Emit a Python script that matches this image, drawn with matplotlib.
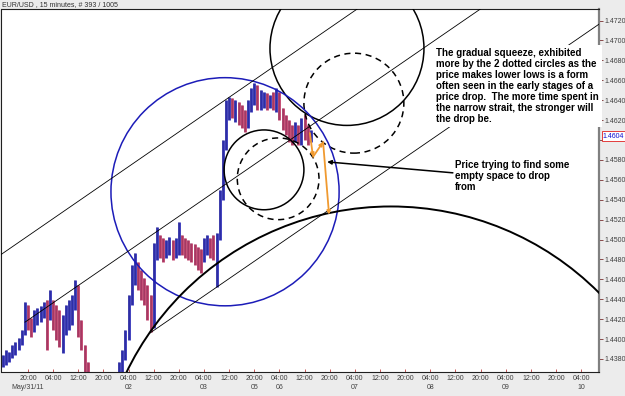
import matplotlib
matplotlib.use("Agg")
import matplotlib.pyplot as plt
import matplotlib.transforms as mtransforms
from matplotlib.patches import Ellipse

# hourly bars, x = trading hours counted from May/31 20:00
hours = list(range(-8, 91))
highs = [1.4384, 1.4389, 1.4387, 1.4394, 1.4397, 1.4401, 1.4409, 1.4437,
         1.4434, 1.4421, 1.4429, 1.4431, 1.4433, 1.4437, 1.4439, 1.4449, 1.4439, 1.4434,
         1.4429, 1.4424, 1.4434, 1.4439, 1.4444, 1.4459, 1.4454, 1.4419, 1.4394, 1.4377,
         1.4364, 1.4359, 1.4357, 1.4359, 1.4363, 1.4359, 1.4354, 1.4359, 1.4367, 1.4377,
         1.4389, 1.4409, 1.4444, 1.4474, 1.4486, 1.4477, 1.4469, 1.4461, 1.4454, 1.4444,
         1.4497, 1.4513, 1.4505, 1.4502, 1.4500, 1.4503, 1.4500, 1.4502, 1.4518, 1.4505,
         1.4502, 1.4500, 1.4497, 1.4495, 1.4492, 1.4490, 1.4502, 1.4505, 1.4502, 1.4505,
         1.4507, 1.4550, 1.4600, 1.4640, 1.4643, 1.4642, 1.4640, 1.4638, 1.4635, 1.4630,
         1.4640, 1.4652, 1.4657, 1.4655, 1.4650, 1.4648, 1.4647, 1.4645, 1.4648, 1.4652,
         1.4648, 1.4632, 1.4625, 1.4620, 1.4615, 1.4618, 1.4615, 1.4622, 1.4625, 1.4615, 1.4610]
lows = [1.4372, 1.4374, 1.4377, 1.4381, 1.4384, 1.4389, 1.4394, 1.4404,
        1.4409, 1.4402, 1.4407, 1.4414, 1.4417, 1.4421, 1.4389, 1.4419, 1.4409, 1.4399,
        1.4392, 1.4386, 1.4404, 1.4409, 1.4414, 1.4429, 1.4402, 1.4389, 1.4367, 1.4354,
        1.4344, 1.4341, 1.4339, 1.4341, 1.4343, 1.4339, 1.4334, 1.4339, 1.4347, 1.4354,
        1.4364, 1.4379, 1.4399, 1.4434, 1.4454, 1.4449, 1.4439, 1.4434, 1.4419, 1.4407,
        1.4411, 1.4479, 1.4481, 1.4477, 1.4481, 1.4484, 1.4479, 1.4481, 1.4484, 1.4484,
        1.4481, 1.4479, 1.4477, 1.4474, 1.4469, 1.4466, 1.4477, 1.4484, 1.4481, 1.4479,
        1.4452, 1.4500, 1.4540, 1.4590, 1.4620, 1.4622, 1.4618, 1.4615, 1.4612, 1.4608,
        1.4612, 1.4628, 1.4635, 1.4630, 1.4630, 1.4632, 1.4630, 1.4632, 1.4630, 1.4628,
        1.4620, 1.4610, 1.4605, 1.4598, 1.4595, 1.4598, 1.4595, 1.4595, 1.4600, 1.4595, 1.4598]
closes = [1.4379, 1.4384, 1.4386, 1.4391, 1.4394, 1.4396, 1.4404, 1.4429,
          1.4414, 1.4409, 1.4419, 1.4424, 1.4427, 1.4431, 1.4429, 1.4434, 1.4421, 1.4409,
          1.4404, 1.4409, 1.4421, 1.4429, 1.4434, 1.4444, 1.4419, 1.4394, 1.4374, 1.4361,
          1.4351, 1.4349, 1.4347, 1.4354, 1.4351, 1.4344, 1.4341, 1.4349, 1.4361, 1.4371,
          1.4384, 1.4404, 1.4439, 1.4464, 1.4469, 1.4459, 1.4449, 1.4439, 1.4429, 1.4419,
          1.4490, 1.4500, 1.4495, 1.4490, 1.4492, 1.4495, 1.4490, 1.4492, 1.4500, 1.4495,
          1.4490, 1.4488, 1.4484, 1.4481, 1.4477, 1.4474, 1.4495, 1.4500, 1.4495, 1.4490,
          1.4495, 1.4540, 1.4590, 1.4630, 1.4635, 1.4630, 1.4632, 1.4625, 1.4622, 1.4615,
          1.4630, 1.4645, 1.4650, 1.4640, 1.4640, 1.4640, 1.4638, 1.4640, 1.4635, 1.4640,
          1.4628, 1.4618, 1.4612, 1.4605, 1.4602, 1.4610, 1.4602, 1.4615, 1.4610, 1.4600, 1.4604]
last_price = 1.4604

# axis ticks
price_ticks = [1.438, 1.440, 1.442, 1.444, 1.446, 1.448, 1.450, 1.452, 1.454,
               1.456, 1.458, 1.460, 1.462, 1.464, 1.466, 1.468, 1.470, 1.472]
time_ticks = [0, 8, 16, 24, 32, 40, 48, 56, 64, 72, 80, 88,
              96, 104, 112, 120, 128, 136, 144, 152, 160, 168, 176]
time_labels = ['20:00', '04:00', '12:00', '20:00', '04:00', '12:00', '20:00', '04:00',
               '12:00', '20:00', '04:00', '12:00', '20:00', '04:00', '12:00', '20:00',
               '04:00', '12:00', '20:00', '04:00', '12:00', '20:00', '04:00']
date_labels = ['May/31/11', '', '', '', '02', '', '', '03', '', '05', '06', '',
               '', '07', '', '', '08', '', '', '09', '', '', '10']

# drawn objects: circles (center hour, center price, radius in hours)
circle_solid = [(101.5, 1.4692, 24.5), (75.1, 1.4570, 12.7)]
circle_dashed = [(103.7, 1.4637, 15.9), (79.6, 1.4561, 13.0)]
circle_blue = (62.7, 1.4548, 36.3)
circle_big = (115.5, 1.4238, 93.5)
# channel lines (start hour, start price, end hour, end price)
channel = [(-9, 1.4484, 110, 1.4743),
           (-0.95, 1.4417, 146, 1.4736),
           (38.8, 1.4406, 182, 1.4717)]
orange_path = [(89.7, 1.4607), (90.7, 1.4583), (93.9, 1.4598), (95.8, 1.4525)]
arrow_from = (135.2, 1.4567)
arrow_to = (95.2, 1.4578)

note1 = ("The gradual squeeze, exhibited\nmore by the 2 dotted circles as the\n"
         "price makes lower lows is a form\noften seen in the early stages of a\n"
         "price drop.  The more time spent in\nthe narrow strait, the stronger will\n"
         "the drop be.")
note2 = "Price trying to find some\nempty space to drop\nfrom"

fig = plt.figure(figsize=(6.25, 3.96), dpi=100, facecolor='#ececec')
ax = fig.add_axes([1.5 / 625, 24 / 396, 597.5 / 625, 363 / 396])
ax.set_facecolor('white')
ax.set_xlim(-8.43, 181.7)
ax.set_ylim(1.43669, 1.47316)

# bars
prev = [1.4375] + closes[:-1]
cols = ['#3030b8' if c >= o else '#c03c68' for c, o in zip(closes, prev)]
ax.vlines(hours, lows, highs, colors=cols, lw=2.0, zorder=2)
ax.vlines(hours, lows, highs, colors='#202040', lw=0.35, alpha=0.6, zorder=2)

# circles need the pixel aspect of the axes
p0 = ax.transData.transform((0, 1.45))
p1 = ax.transData.transform((1, 1.451))
ratio = (p1[0] - p0[0]) / ((p1[1] - p0[1]) / 0.001)


def circle(c, **kw):
    h, p, r = c
    ax.add_patch(Ellipse((h, p), 2 * r, 2 * r * ratio, fill=False, **kw))


for c in circle_solid:
    circle(c, ec='black', lw=1.1, zorder=3)
for c in circle_dashed:
    circle(c, ec='black', lw=1.1, ls=(0, (4, 3)), zorder=3)
circle(circle_blue, ec='#1c1cb8', lw=1.1, zorder=3)
circle(circle_big, ec='black', lw=1.4, zorder=3)

for x1, y1, x2, y2 in channel:
    ax.plot([x1, x2], [y1, y2], color='black', lw=0.6, zorder=3)

for (x1, y1), (x2, y2) in zip(orange_path[:-1], orange_path[1:]):
    ax.annotate('', xy=(x2, y2), xytext=(x1, y1),
                arrowprops=dict(arrowstyle='-|>', color='#f09a30', lw=1.3,
                                mutation_scale=5, shrinkA=0, shrinkB=0), zorder=4)
ax.annotate('', xy=arrow_to, xytext=arrow_from,
            arrowprops=dict(arrowstyle='-|>', color='black', lw=1.1,
                            mutation_scale=6, shrinkA=0, shrinkB=0), zorder=4)

font = ['Liberation Sans Narrow', 'Liberation Sans', 'DejaVu Sans']
ax.text(129.8, 1.4692, note1, family=font, weight='bold', fontsize=7, va='top',
        ha='left', linespacing=1.12, zorder=5,
        bbox=dict(boxstyle='square,pad=0.3', fc='white', ec='none'))
ax.text(135.9, 1.4580, note2, family=font, weight='bold', fontsize=7, va='top',
        ha='left', linespacing=1.12, zorder=5)

# axes styling
for s in ax.spines.values():
    s.set_color('#202020')
    s.set_linewidth(0.8)
ax.spines['right'].set_color('#808080')
ax.spines['right'].set_linewidth(1.6)

ax.yaxis.tick_right()
ax.set_yticks(price_ticks)
# the 1.4600 label sits under the last-price box
ax.set_yticklabels(['' if abs(v - last_price) < 0.001 else '%.4f' % v for v in price_ticks])
ax.tick_params(axis='y', direction='out', length=3, width=0.6, color='#7a3030',
               labelsize=5, labelcolor='#404040', pad=1)
ax.set_xticks(time_ticks)
ax.set_xticklabels([t + '\n' + d for t, d in zip(time_labels, date_labels)],
                   family=['Liberation Sans', 'DejaVu Sans'], linespacing=1.5)
ax.tick_params(axis='x', direction='in', length=2.5, width=0.6, color='#c04040',
               labelsize=5, labelcolor='#404040', pad=2)
for lab in ax.get_yticklabels():
    lab.set_family(['Liberation Sans', 'DejaVu Sans'])

trans = mtransforms.blended_transform_factory(ax.transAxes, ax.transData)
ax.text(1.006, last_price, '%.4f' % last_price, transform=trans, fontsize=5,
        color='#1010d0', va='center', ha='left', family=['Liberation Sans', 'DejaVu Sans'],
        bbox=dict(boxstyle='square,pad=0.15', fc='white', ec='#e02020', lw=0.6),
        clip_on=False, zorder=6)

fig.text(2 / 625, 1 - 5 / 396, 'EUR/USD , 15 minutes, # 393 / 1005', fontsize=5,
         color='#303030', va='center', ha='left', family=['Liberation Sans', 'DejaVu Sans'])

fig.savefig('out.png', dpi=100, facecolor=fig.get_facecolor())
